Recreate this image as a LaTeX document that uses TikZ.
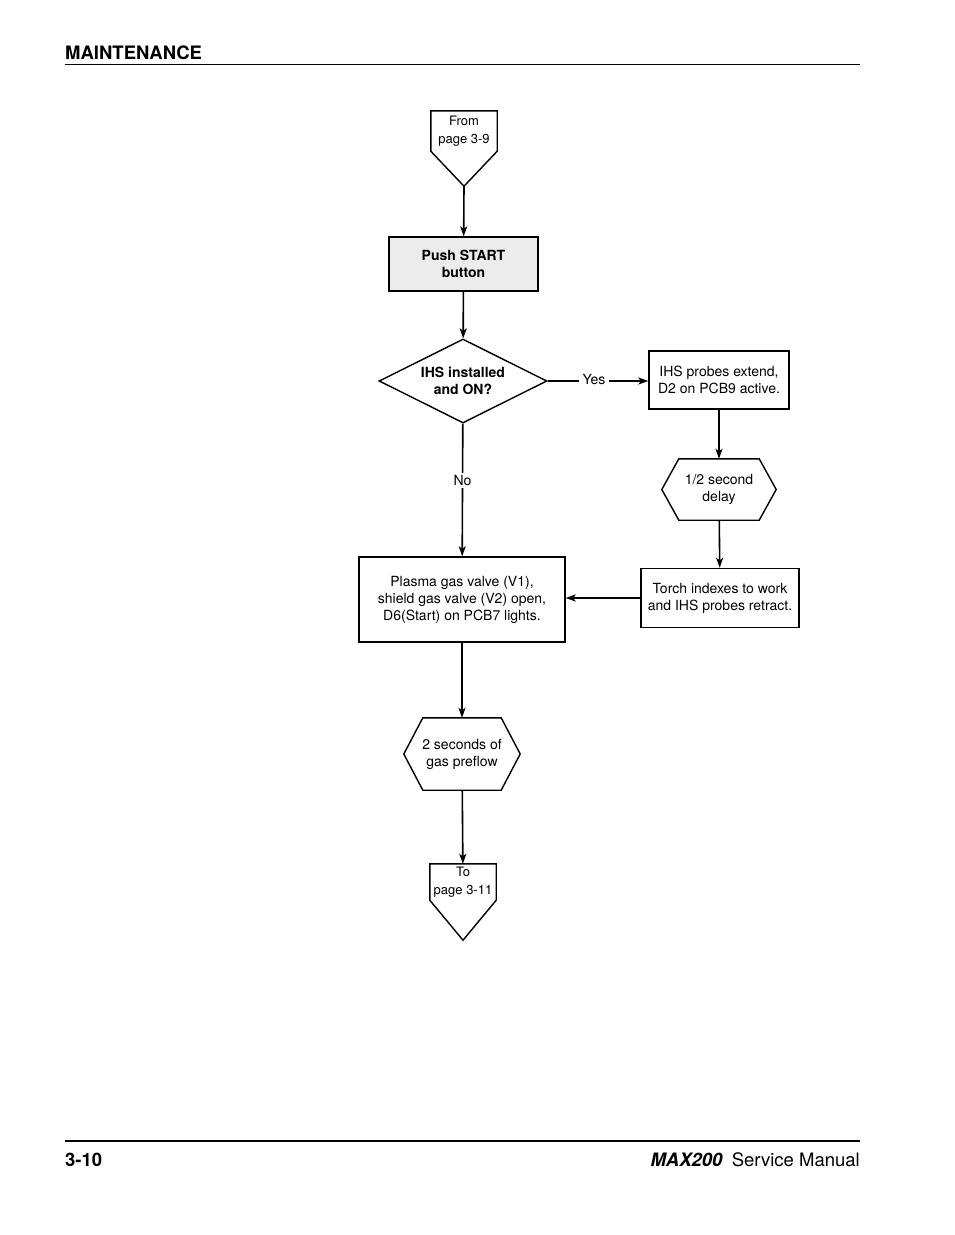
\documentclass[tikz,border=0pt]{standalone}
\usepackage{fontspec}
\setmainfont{TeX Gyre Heros}
\usetikzlibrary{shapes.geometric,arrows.meta}

\begin{document}
\begin{tikzpicture}[x=1pt,y=-1pt,
    every node/.style={font=\fontsize{14}{17}\selectfont, align=center, inner sep=0pt},
    boldtext/.style={font=\fontsize{14}{17}\selectfont\bfseries},
    pagetext/.style={font=\fontsize{13}{17.5}\selectfont},
    outline/.style={line width=1.4pt, line join=miter},
    box/.style={draw, outline},
    decision/.style={diamond, draw, outline, aspect=2, minimum width=168pt, minimum height=84pt},
    arrow/.style={line width=1.6pt, -{Stealth[length=10pt,width=7pt,inset=2.5pt]}},
    lbl/.style={fill=white, inner xsep=4pt, inner ysep=2pt}]
  \useasboundingbox (0,0) rectangle (954,1235);
  \fill[white] (0,0) rectangle (954,1235);

  % page header and footer
  \node[anchor=base west, font=\fontsize{18.5}{20}\selectfont\bfseries] (head) at (65,59) {MAINTENANCE};
  \draw[line width=1pt] (65,64.5) -- (860,64.5);
  \draw[line width=2pt] (65,1141) -- (860,1141);
  \node[anchor=base west, font=\fontsize{18.5}{20}\selectfont\bfseries] (pagenum) at (65,1166) {3-10};
  \node[anchor=base east, font=\fontsize{18.5}{20}\selectfont] (manual) at (860,1166) {{\bfseries\itshape MAX200}\enspace Service Manual};

  % flow chart
  \node[pagetext, minimum width=66pt, minimum height=40pt] (from) at (464,131) {From\\page 3-9};
  \draw[outline] (from.north west) -- (from.north east) -- (from.south east)
    -- ([yshift=-35pt]from.south) -- (from.south west) -- cycle;
  \coordinate (fromtip) at ([yshift=-35pt]from.south);

  \node[box, boldtext, fill=gray!15, minimum width=149pt, minimum height=54pt] (push) at (463.5,264) {Push START\\button};
  \node[decision, boldtext] (ihs) at (463,381) {IHS installed\\and ON?};
  \node[box, minimum width=140pt, minimum height=58pt] (probes) at (719,380) {IHS probes extend,\\D2 on PCB9 active.};

  \node[minimum width=114pt, minimum height=61pt] (delay) at (719,489.5) {1/2 second\\delay};
  \draw[outline] (delay.west) -- ([xshift=17pt]delay.north west) -- ([xshift=-17pt]delay.north east)
    -- (delay.east) -- ([xshift=-17pt]delay.south east) -- ([xshift=17pt]delay.south west) -- cycle;

  \node[box, minimum width=158pt, minimum height=59pt] (torch) at (720,598) {Torch indexes to work\\and IHS probes retract.};
  \node[box, minimum width=206pt, minimum height=85pt] (plasma) at (462,599.5) {Plasma gas valve (V1),\\shield gas valve (V2) open,\\D6(Start) on PCB7 lights.};

  \node[minimum width=116pt, minimum height=72pt] (preflow) at (462,754) {2 seconds of\\gas preflow};
  \draw[outline] (preflow.west) -- ([xshift=19pt]preflow.north west) -- ([xshift=-19pt]preflow.north east)
    -- (preflow.east) -- ([xshift=-19pt]preflow.south east) -- ([xshift=19pt]preflow.south west) -- cycle;

  \node[pagetext, minimum width=66pt, minimum height=36pt] (to) at (463,882) {To\\page 3-11};
  \draw[outline] (to.north west) -- (to.north east) -- (to.south east)
    -- ([yshift=-40pt]to.south) -- (to.south west) -- cycle;

  \draw[arrow] (fromtip) -- (push);
  \draw[arrow] (push) -- (ihs);
  \draw[arrow] (ihs.east) -- node[lbl, pos=0.46, yshift=2pt] {Yes} (ihs.east -| probes.west);
  \draw[arrow] (probes) -- (delay);
  \draw[arrow] (delay) -- (torch);
  \draw[arrow] (torch.west) -- (torch.west -| plasma.east);
  \draw[arrow] (ihs) -- node[lbl, pos=0.43] {No} (plasma);
  \draw[arrow] (plasma) -- (preflow);
  \draw[arrow] (preflow) -- (to);
\end{tikzpicture}
\end{document}
